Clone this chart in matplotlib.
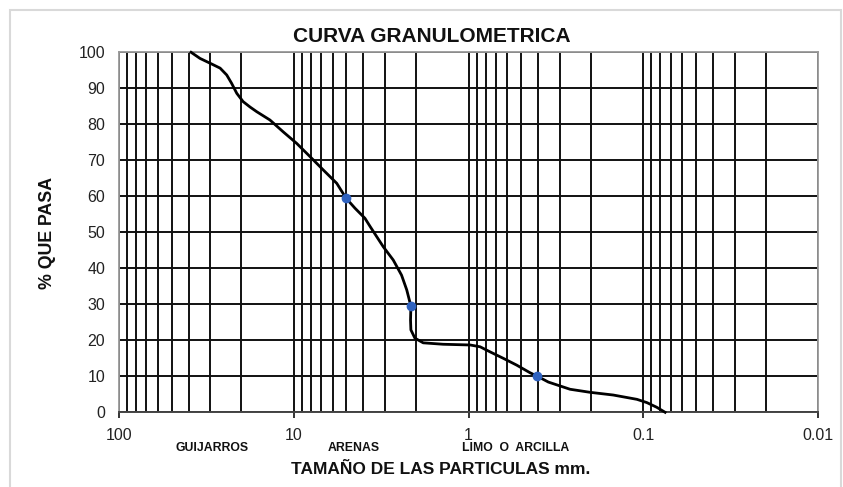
import matplotlib
matplotlib.use("Agg")
import matplotlib.pyplot as plt
from matplotlib.ticker import FixedLocator, NullFormatter
from matplotlib.patches import Rectangle

plt.rcParams['font.family'] = ['Liberation Sans', 'DejaVu Sans']

# curva granulometrica (tamaño en mm, % que pasa)
tamano = [38.7, 34.4, 29.5, 26.4, 24.2, 22.7, 21.2, 19.5, 17.8, 16.3, 13.7,
          11.5, 9.63, 8.07, 6.78, 5.68, 5.03, 4.47, 3.92, 3.66, 3.08, 2.70,
          2.42, 2.26, 2.14, 2.15, 2.14, 2.03, 1.82, 1.40, 0.98, 0.86, 0.755,
          0.634, 0.531, 0.446, 0.404, 0.350, 0.263, 0.202, 0.149, 0.109,
          0.0957, 0.084, 0.0752]
pasa = [100, 98.3, 96.75, 95.6, 93.7, 91.4, 88.6, 86.3, 84.8, 83.5, 81.2,
        77.9, 74.7, 71.0, 67.3, 63.6, 59.5, 56.7, 53.9, 51.6, 46.0, 42.3,
        38.1, 34.0, 29.5, 25.6, 22.9, 20.6, 19.3, 18.9, 18.7, 18.2, 16.8,
        15.0, 13.1, 11.0, 10.0, 8.4, 6.4, 5.55, 4.8, 3.6, 2.7, 1.4, 0]

# D60, D30, D10
d_tamano = [5.03, 2.14, 0.404]
d_pasa = [59.5, 29.5, 10.0]

decadas = [100, 10, 1, 0.1, 0.01]
etiquetas_x = ['100', '10', '1', '0.1', '0.01']
menores = [m * d / 10 for d in decadas[:-1] for m in range(2, 10)]
y_ticks = list(range(0, 101, 10))

fig = plt.figure(figsize=(8.43, 4.87), dpi=100)
fig.patches.append(Rectangle((10 / 843, -0.05), 831 / 843, 1.05 - 10 / 487,
                             transform=fig.transFigure, fill=False,
                             edgecolor='#d9d9d9', linewidth=1.5))
ax = fig.add_axes([119 / 843, 1 - 412.3 / 487, (818.3 - 119) / 843, 360 / 487])

ax.set_xscale('log')
ax.set_xlim(100, 0.01)
ax.set_ylim(0, 100)

ax.xaxis.set_major_locator(FixedLocator(decadas))
ax.xaxis.set_minor_locator(FixedLocator(menores))
ax.set_xticklabels(etiquetas_x)
ax.xaxis.set_minor_formatter(NullFormatter())
ax.set_yticks(y_ticks)

ax.grid(which='both', axis='x', color='#111111', linewidth=1.4)
ax.grid(which='major', axis='y', color='#111111', linewidth=1.4)
ax.set_axisbelow(True)

ax.tick_params(axis='x', which='major', length=4, width=1.4, color='#333',
               pad=7, labelsize=11.5, labelcolor='#222')
ax.tick_params(axis='x', which='minor', length=0)
ax.tick_params(axis='y', length=0, pad=10, labelsize=11.5, labelcolor='#222')

for lado in ['top', 'right', 'left']:
    ax.spines[lado].set_color('#999999')
    ax.spines[lado].set_linewidth(1.3)
ax.spines['bottom'].set_color('#444444')
ax.spines['bottom'].set_linewidth(1.4)

ax.plot(tamano, pasa, color='black', linewidth=2.0, zorder=3, clip_on=False,
        solid_joinstyle='round')
ax.plot(d_tamano, d_pasa, 'o', color='#3063c0', markersize=6, zorder=4)

fig.text(432 / 843, 1 - 36 / 487, 'CURVA GRANULOMETRICA', ha='center',
         va='center', fontsize=15, fontweight='bold', color='#111')
fig.text(48 / 843, 1 - 233 / 487, '% QUE PASA', ha='center', va='center',
         rotation=90, fontsize=12.8, fontweight='bold', color='#111')
fig.text(441 / 843, 1 - 470 / 487, 'TAMAÑO DE LAS PARTICULAS mm.',
         ha='center', va='center', fontsize=12.5, fontweight='bold',
         color='#111')
for x, nombre in [(212, 'GUIJARROS'), (354, 'ARENAS'),
                  (516, 'LIMO  O  ARCILLA')]:
    fig.text(x / 843, 1 - 448 / 487, nombre, ha='center', va='center',
             fontsize=8.8, fontweight='bold', color='#111')

fig.savefig('out.png', dpi=100)
